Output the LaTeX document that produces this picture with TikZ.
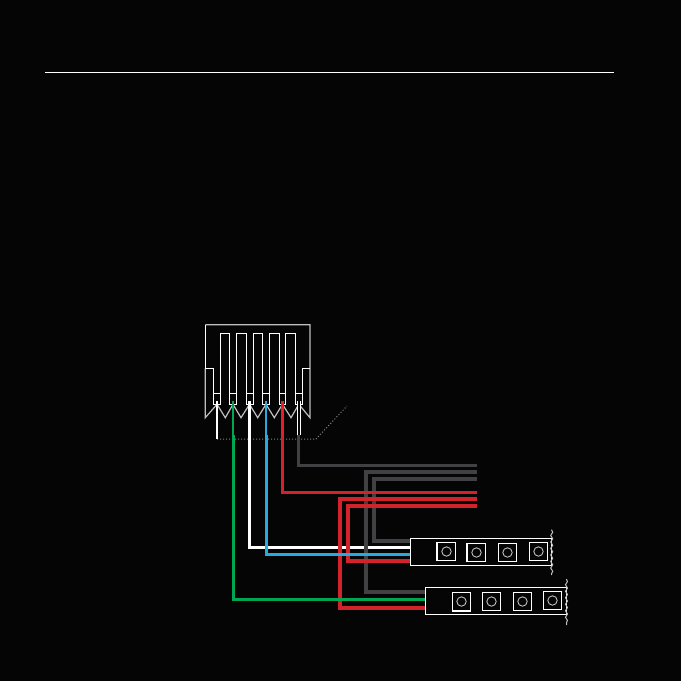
\documentclass[tikz,border=0pt]{standalone}
\usetikzlibrary{positioning}
\usetikzlibrary{decorations.pathmorphing}
\definecolor{bgcol}{HTML}{050505}
\definecolor{wiregray}{HTML}{414042}
\definecolor{wirered}{HTML}{D2232A}
\definecolor{pinred}{HTML}{ED1C24}
\definecolor{wireblue}{HTML}{27AAE1}
\definecolor{wiregreen}{HTML}{00A651}
\begin{document}
\begin{tikzpicture}[x=1pt,y=-1pt,line join=miter,
  strip/.style={draw=white, fill=bgcol, line width=1.2pt, inner sep=0pt, outer sep=0pt, minimum width=141.4pt, minimum height=27pt},
  led/.style={draw=white, fill=bgcol, line width=1.2pt, inner sep=0pt, minimum size=18.3pt},
  lens/.style={draw=lightgray, circle, line width=.9pt, inner sep=0pt, minimum size=9.4pt},
  wire/.style={line width=3pt},
  widewire/.style={line width=4pt}]
\tikzstyle{outline}=[white, line width=1.2pt]
\tikzstyle{skin}=[lightgray, line width=1.2pt]
\tikzstyle{tear}=[lightgray, line width=1pt, decorate, decoration={snake, amplitude=1pt, segment length=6.5pt, pre length=.5pt, post length=.5pt}]

\useasboundingbox [fill=bgcol] (0,0) rectangle (681,681);
\draw [white, line width=1pt] (45,72) -- (614,72);

% connector
\coordinate (P1) at (217,401);
\coordinate (P2) at (233,401);
\coordinate (P3) at (249.5,401);
\coordinate (P4) at (266,401);
\coordinate (P5) at (282.5,401);
\coordinate (P6) at (298.8,401);

\draw [skin] (205.3,368.3) -- (205.3,417.7) -- (217,404.3) -- (225.3,417.7) -- (233,404.3) -- (241,417.7) -- (249.5,404.3) -- (257.7,417.7) -- (266,404.3) -- (274.3,417.7) -- (282.5,404.3) -- (291,417.7) -- (298.8,404.3) -- (310,417.7) -- (310,324.7) -- (205.3,324.7);
\draw [outline] (205.3,324.7) -- (205.3,368.3) -- (213.3,368.3) -- (213.3,404.3) -- (220.3,404.3) -- (220.3,333.3) -- (229.7,333.3) -- (229.7,404.3) -- (236.3,404.3) -- (236.3,333.3) -- (246.7,333.3) -- (246.7,404.3) -- (253.3,404.3) -- (253.3,333.3) -- (262.7,333.3) -- (262.7,404.3) -- (269.3,404.3) -- (269.3,333.3) -- (279.3,333.3) -- (279.3,404.3) -- (285.3,404.3) -- (285.3,333.3) -- (295.3,333.3) -- (295.3,404.3) -- (302.3,404.3) -- (302.3,368.3) -- (310,368.3);
\foreach \xa/\xb in {213.3/220.3, 229.7/236.3, 246.7/253.3, 262.7/269.3, 279.3/285.3, 295.3/302.3}
  \draw [outline] (\xa,393.3) -- (\xb,393.3);

\draw [gray, line width=1pt, dash pattern=on 1pt off 2pt] (217,439) -- (316,439) -- (347,406);

% strips
\node (S1) [strip] at (481,551.8) {};
\node (S2) [strip] at (496,600.8) {};
\draw [tear] (551.7,529.7) -- (551.7,575);
\draw [tear] (566.5,579) -- (566.5,625);

\foreach \n/\cx/\cy in {1/446.5/551.5, 2/476.5/552.5, 3/507.5/552.5, 4/538.5/551.5} {
  \node (A\n) [led] at (\cx,\cy) {};
  \node (a\n) [lens] at (A\n) {};
}
\foreach \n/\cx/\cy in {1/461.5/601.5, 2/491.5/601.5, 3/522.5/601.5, 4/552.5/600.5} {
  \node (B\n) [led] at (\cx,\cy) {};
  \node (b\n) [lens] at (B\n) {};
}
\draw [white, line width=1.8pt] (A1.south west) -- (A1.north west);
\draw [white, line width=1.8pt] (A2.south west) -- (A2.north west);
\draw [white, line width=1.8pt] (B1.south west) -- (B1.south east);

% ends
\coordinate (E1) at (477,465.3);
\coordinate (E2) at (477,471.7);
\coordinate (E3) at (477,478.7);
\coordinate (E4) at (477,492.3);
\coordinate (E5) at (477,499);
\coordinate (E6) at (477,506);

% white
\draw [wire, white] (P3) |- (S1.west |- 0,547.7);

% gray
\draw [widewire, wiregray] (E2) -- (366,471.7) -- (366,591.7) -- (S2.west |- 0,591.7);
\draw [widewire, wiregray] (E3) -- (374,478.7) -- (374,541) -- (S1.west |- 0,541);
\draw [wire, wiregray] (298.8,435) |- (E1);

% red
\draw [widewire, wirered] (E5) -- (340,499) -- (340,608) -- (S2.west |- 0,608);
\draw [widewire, wirered] (E6) -- (348,506) -- (348,561) -- (S1.west |- 0,561);
\draw [wire, pinred] (P5) -- (282.5,435);
\draw [wire, wirered] (282.5,435) |- (E4);

% signal
\draw [wire, wireblue, line width=2pt] (P4) -- (266,435);
\draw [wire, wireblue] (266,435) |- (S1.west |- 0,554.3);
\draw [wire, wiregreen, line width=2pt] (P2) -- (233,435);
\draw [wire, wiregreen] (233,435) |- (S2.west |- 0,599.3);

% shield
\draw [white, line width=2pt] (P1) -- (217,439);
\draw [white, line width=3.6pt] (P6) -- (298.8,435);
\draw [bgcol, line width=1.4pt] (P6) -- (298.8,435);
\end{tikzpicture}
\end{document}
